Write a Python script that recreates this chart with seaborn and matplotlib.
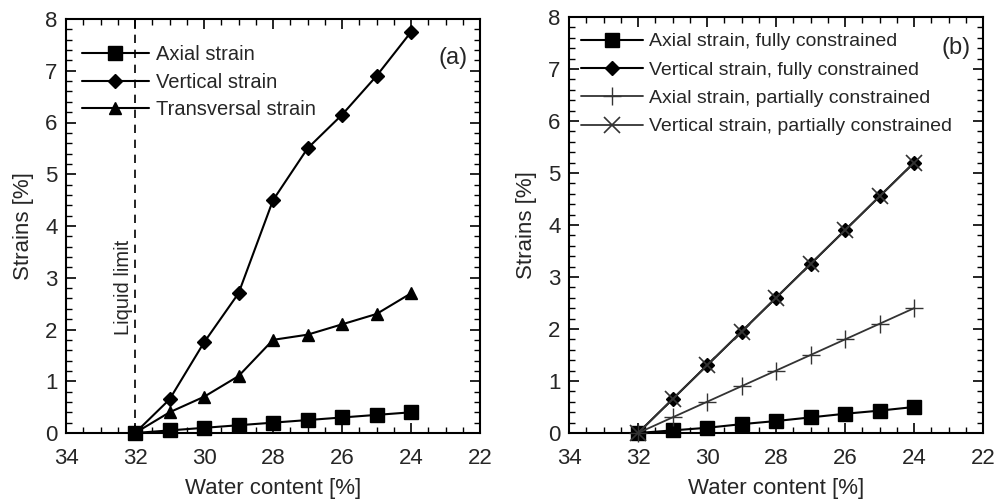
import matplotlib
matplotlib.use("Agg")
import matplotlib.pyplot as plt
import pandas as pd
import seaborn as sns
from matplotlib.ticker import MultipleLocator

water = [32, 31, 30, 29, 28, 27, 26, 25, 24]

# panel (a)
axial_a = [0, 0.05, 0.10, 0.15, 0.20, 0.25, 0.30, 0.35, 0.40]
vertical_a = [0, 0.65, 1.75, 2.70, 4.50, 5.50, 6.15, 6.90, 7.75]
transversal_a = [0, 0.40, 0.70, 1.10, 1.80, 1.90, 2.10, 2.30, 2.70]

# panel (b)
axial_full = [0, 0.05, 0.10, 0.17, 0.23, 0.30, 0.37, 0.43, 0.50]
vertical_full = [0, 0.65, 1.30, 1.95, 2.60, 3.25, 3.90, 4.55, 5.20]
axial_part = [0, 0.30, 0.60, 0.90, 1.20, 1.50, 1.80, 2.10, 2.40]
vertical_part = [0, 0.65, 1.30, 1.95, 2.60, 3.25, 3.90, 4.55, 5.20]

liquid_limit = 32

sns.set_theme(style="ticks")
plt.rcParams["font.family"] = ["Liberation Sans", "DejaVu Sans"]

fig = plt.figure(figsize=(9.96, 5.0), dpi=100)
ax_a = fig.add_axes([0.0663, 0.134, 0.4157, 0.828])
ax_b = fig.add_axes([0.5713, 0.134, 0.4157, 0.832])


def draw(ax, y, label, marker, ms, lw=1.5, color="black", mew=1.0):
    df = pd.DataFrame({"w": water, "s": y})
    sns.lineplot(data=df, x="w", y="s", ax=ax, color=color, lw=lw,
                 marker=marker, markersize=ms, markeredgecolor=color,
                 markerfacecolor=color, markeredgewidth=mew, label=label,
                 clip_on=False, zorder=3)


def style(ax, tag, tag_y):
    ax.set_xlim(34, 22)
    ax.set_ylim(0, 8)
    ax.xaxis.set_major_locator(MultipleLocator(2))
    ax.xaxis.set_minor_locator(MultipleLocator(0.5))
    ax.yaxis.set_major_locator(MultipleLocator(1))
    ax.yaxis.set_minor_locator(MultipleLocator(0.2))
    ax.tick_params(which="both", direction="in", top=True, right=True,
                   labelsize=16, color="black")
    ax.tick_params(axis="x", pad=11)
    ax.tick_params(axis="y", pad=6)
    ax.tick_params(which="major", length=7, width=1.2)
    ax.tick_params(which="minor", length=4, width=1.0)
    for sp in ax.spines.values():
        sp.set_linewidth(1.5)
        sp.set_color("black")
    ax.set_xlabel("Water content [%]", fontsize=16, labelpad=6)
    ax.set_ylabel("Strains [%]", fontsize=16, labelpad=8)
    ax.text(0.97, tag_y, tag, transform=ax.transAxes, ha="right", va="center",
            fontsize=17)


draw(ax_a, axial_a, "Axial strain", "s", 10)
draw(ax_a, vertical_a, "Vertical strain", "D", 7.5)
draw(ax_a, transversal_a, "Transversal strain", "^", 9)
ax_a.axvline(liquid_limit, color="black", ls=(0, (5, 4)), lw=1.2, zorder=1)
ax_a.text(liquid_limit + 0.06, 1.9, "Liquid limit", rotation=90,
          ha="right", va="bottom", fontsize=14.5)
style(ax_a, "(a)", 0.905)
ax_a.legend(loc="upper left", bbox_to_anchor=(0.0, 0.975), frameon=False,
            fontsize=14.5, handlelength=3.3, handletextpad=0.35,
            labelspacing=0.42, borderaxespad=0.4)

draw(ax_b, axial_full, "Axial strain, fully constrained", "s", 10)
draw(ax_b, vertical_full, "Vertical strain, fully constrained", "D", 7.5)
draw(ax_b, axial_part, "Axial strain, partially constrained", "+", 13,
     lw=1.3, color="#333333", mew=1.0)
draw(ax_b, vertical_part, "Vertical strain, partially constrained", "x", 12,
     lw=1.3, color="#333333", mew=1.2)
style(ax_b, "(b)", 0.925)
ax_b.legend(loc="upper left", bbox_to_anchor=(0.0, 0.99), frameon=False,
            fontsize=14, handlelength=3.2, handletextpad=0.3,
            labelspacing=0.55, borderaxespad=0.2)

fig.savefig("out.png", dpi=100)
